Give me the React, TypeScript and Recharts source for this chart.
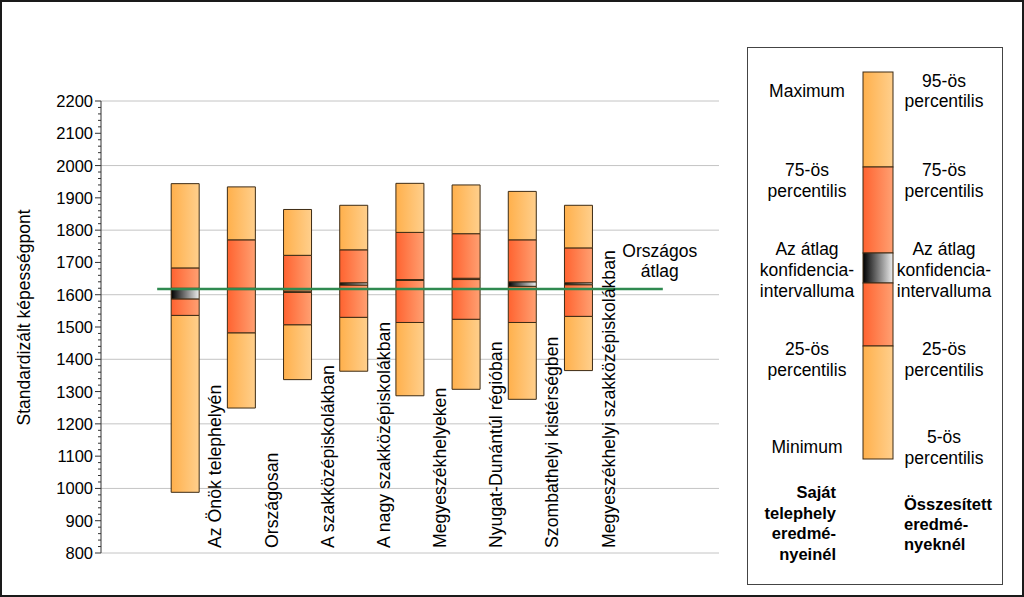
import React from "react";
import {
  ComposedChart,
  Bar,
  XAxis,
  YAxis,
  CartesianGrid,
  ReferenceLine,
} from "recharts";

const FONT = "'Liberation Sans', Arial, sans-serif";

const categories = [
  "Az Önök telephelyén",
  "Országosan",
  "A szakközépiskolákban",
  "A nagy szakközépiskolákban",
  "Megyeszékhelyeken",
  "Nyugat-Dunántúl régióban",
  "Szombathelyi kistérségben",
  "Megyeszékhelyi szakközépiskolákban",
];

// values (top to bottom of each box)
const maxValues = [1944, 1934, 1864, 1877, 1945, 1940, 1920, 1877];
const p75Values = [1683, 1770, 1722, 1739, 1793, 1789, 1770, 1745];
const ciHighValues = [1620, 1620, 1611, 1637, 1647, 1651, 1640, 1637];
const ciLowValues = [1587, 1616, 1607, 1630, 1644, 1647, 1626, 1631];
const p25Values = [1536, 1482, 1507, 1530, 1514, 1524, 1514, 1533];
const minValues = [988, 1249, 1337, 1363, 1287, 1307, 1276, 1365];

const nationalAverage = 1618;
const nationalLabel = ["Országos", "átlag"];
const yAxisTitle = "Standardizált képességpont";

const yTicks = [800, 900, 1000, 1100, 1200, 1300, 1400, 1500, 1600, 1700, 1800, 1900, 2000, 2100, 2200];
const gridValues = [800, 1000, 1200, 1400, 1600, 1800, 2000, 2200];
const minorStep = 20;

// empty slots around the boxes
const leadingSlots = ["pad-0"];
const trailingSlots = ["pad-9", "pad-10"];

const legendLeft = [
  ["Maximum"],
  ["75-ös", "percentilis"],
  ["Az átlag", "konfidencia-", "intervalluma"],
  ["25-ös", "percentilis"],
  ["Minimum"],
];
const legendRight = [
  ["95-ös", "percentilis"],
  ["75-ös", "percentilis"],
  ["Az átlag", "konfidencia-", "intervalluma"],
  ["25-ös", "percentilis"],
  ["5-ös", "percentilis"],
];
const legendLeftTitle = ["Saját", "telephely", "eredmé-", "nyeinél"];
const legendRightTitle = ["Összesített", "eredmé-", "nyeknél"];

const minorTicks: number[] = [];
for (let v = yTicks[0]; v <= yTicks[yTicks.length - 1]; v += minorStep) minorTicks.push(v);

const rows = [
  ...leadingSlots.map((key) => ({ key })),
  ...categories.map((key, i) => ({
    key,
    base: minValues[i],
    lowOrange: p25Values[i] - minValues[i],
    lowRed: ciLowValues[i] - p25Values[i],
    ci: ciHighValues[i] - ciLowValues[i],
    highRed: p75Values[i] - ciHighValues[i],
    highOrange: maxValues[i] - p75Values[i],
  })),
  ...trailingSlots.map((key) => ({ key })),
];

const EDGE = "#3d2b14";

function CategoryTick(props: any) {
  const { x, y, payload } = props;
  const value = String(payload.value);
  if (value.startsWith("pad")) return <g />;
  const half = typeof payload.offset === "number" && payload.offset > 0 ? payload.offset : 28;
  const tx = x + half + 8;
  const ty = y - 5;
  return (
    <text
      x={tx}
      y={ty}
      transform={`rotate(-90, ${tx}, ${ty})`}
      textAnchor="start"
      fontSize={17.7}
      fontFamily={FONT}
      fill="#000"
    >
      {value}
    </text>
  );
}

function ValueTick(props: any) {
  const { x, y, payload } = props;
  const v = Number(payload.value);
  const major = yTicks.includes(v);
  return (
    <g>
      <line x1={x} x2={x - (major ? 6 : 3)} y1={y} y2={y} stroke="#333" />
      {major && (
        <text x={x - 8} y={y} dy={6} textAnchor="end" fontSize={16.5} fontFamily={FONT} fill="#000">
          {v}
        </text>
      )}
    </g>
  );
}

function LegendPanel() {
  const barX = 863;
  const barW = 30;
  const cuts = [72, 167, 253, 283, 346, 459];
  const fills = ["url(#lgOrange)", "url(#lgRed)", "url(#lgCi)", "url(#lgRed)", "url(#lgOrange)"];
  const leftBase = [[97], [176, 197], [255, 276, 297], [355, 376], [453]];
  const rightBase = [[87, 107], [176, 197], [255, 276, 297], [355, 376], [443, 464]];
  return (
    <svg
      width={1024}
      height={597}
      style={{ position: "absolute", left: 0, top: 0, pointerEvents: "none" }}
      fontFamily={FONT}
    >
      <defs>
        <linearGradient id="lgOrange" x1="0" y1="0" x2="1" y2="0">
          <stop offset="0" stopColor="#ffb04c" />
          <stop offset="1" stopColor="#ffcf8c" />
        </linearGradient>
        <linearGradient id="lgRed" x1="0" y1="0" x2="1" y2="0">
          <stop offset="0" stopColor="#ff6330" />
          <stop offset="1" stopColor="#ffa072" />
        </linearGradient>
        <linearGradient id="lgCi" x1="0" y1="0" x2="1" y2="0">
          <stop offset="0" stopColor="#000" />
          <stop offset="1" stopColor="#eeeeee" />
        </linearGradient>
      </defs>
      <rect x={747.5} y={47.5} width={255} height={537} fill="#fff" stroke="#444" />
      {fills.map((f, i) => (
        <rect
          key={i}
          x={barX}
          y={cuts[i]}
          width={barW}
          height={cuts[i + 1] - cuts[i]}
          fill={f}
          stroke={EDGE}
        />
      ))}
      {legendLeft.map((lines, i) =>
        lines.map((t, j) => (
          <text key={`l${i}-${j}`} x={807} y={leftBase[i][j]} textAnchor="middle" fontSize={17.5} fill="#000">
            {t}
          </text>
        ))
      )}
      {legendRight.map((lines, i) =>
        lines.map((t, j) => (
          <text key={`r${i}-${j}`} x={944} y={rightBase[i][j]} textAnchor="middle" fontSize={17.5} fill="#000">
            {t}
          </text>
        ))
      )}
      {legendLeftTitle.map((t, j) => (
        <text key={`lt${j}`} x={836} y={498 + j * 20.5} textAnchor="end" fontSize={16.5} fontWeight="bold" fill="#000">
          {t}
        </text>
      ))}
      {legendRightTitle.map((t, j) => (
        <text key={`rt${j}`} x={904} y={510 + j * 20} textAnchor="start" fontSize={16.5} fontWeight="bold" fill="#000">
          {t}
        </text>
      ))}
    </svg>
  );
}

export default function App() {
  return (
    <div
      style={{
        position: "absolute",
        left: 0,
        top: 0,
        width: 1024,
        height: 597,
        background: "#fff",
        fontFamily: FONT,
        overflow: "hidden",
      }}
    >
      <ComposedChart
        width={1024}
        height={597}
        data={rows}
        margin={{ top: 101, right: 305, bottom: 0, left: 0 }}
      >
        <defs>
          <linearGradient id="gOrange" x1="0" y1="0" x2="1" y2="0">
            <stop offset="0" stopColor="#ffb04c" />
            <stop offset="1" stopColor="#ffcf8c" />
          </linearGradient>
          <linearGradient id="gRed" x1="0" y1="0" x2="1" y2="0">
            <stop offset="0" stopColor="#ff6330" />
            <stop offset="1" stopColor="#ffa072" />
          </linearGradient>
          <linearGradient id="gCi" x1="0" y1="0" x2="1" y2="0">
            <stop offset="0" stopColor="#000" />
            <stop offset="1" stopColor="#eeeeee" />
          </linearGradient>
        </defs>
        <CartesianGrid vertical={false} horizontalValues={gridValues} stroke="#c4c4c4" />
        <XAxis
          dataKey="key"
          type="category"
          height={44}
          interval={0}
          tickSize={0}
          tickMargin={0}
          tickLine={false}
          axisLine={false}
          tick={<CategoryTick />}
        />
        <YAxis
          type="number"
          domain={[800, 2200]}
          allowDataOverflow
          ticks={minorTicks}
          interval={0}
          width={101}
          tickSize={0}
          tickMargin={0}
          tickLine={false}
          axisLine={{ stroke: "#333" }}
          tick={<ValueTick />}
          label={{
            content: (p: any) => {
              const vb = p.viewBox || { x: 0, y: 101, width: 101, height: 452 };
              const cx = vb.x + 30;
              const cy = vb.y + vb.height / 2 - 9.5;
              return (
                <text
                  x={cx}
                  y={cy}
                  transform={`rotate(-90, ${cx}, ${cy})`}
                  textAnchor="middle"
                  fontSize={17.5}
                  fontFamily={FONT}
                  fill="#000"
                >
                  {yAxisTitle}
                </text>
              );
            },
          }}
        />
        <Bar dataKey="base" stackId="box" barSize={28} fill="none" stroke="none" isAnimationActive={false} />
        <Bar dataKey="lowOrange" stackId="box" barSize={28} fill="url(#gOrange)" stroke={EDGE} isAnimationActive={false} />
        <Bar dataKey="lowRed" stackId="box" barSize={28} fill="url(#gRed)" stroke={EDGE} isAnimationActive={false} />
        <Bar dataKey="ci" stackId="box" barSize={28} fill="url(#gCi)" stroke={EDGE} isAnimationActive={false} />
        <Bar dataKey="highRed" stackId="box" barSize={28} fill="url(#gRed)" stroke={EDGE} isAnimationActive={false} />
        <Bar dataKey="highOrange" stackId="box" barSize={28} fill="url(#gOrange)" stroke={EDGE} isAnimationActive={false} />
        <ReferenceLine
          segment={[
            { x: categories[0], y: nationalAverage },
            { x: trailingSlots[trailingSlots.length - 1], y: nationalAverage },
          ]}
          position="start"
          stroke="#2f8a50"
          strokeWidth={2.5}
          label={{
            content: (p: any) => {
              const vb = p.viewBox || { x: 157, y: 289, width: 505, height: 0 };
              const cx = vb.x + vb.width - 3;
              return (
                <g>
                  {nationalLabel.map((t, j) => (
                    <text
                      key={t}
                      x={cx}
                      y={vb.y - 32 + j * 20}
                      textAnchor="middle"
                      fontSize={17.5}
                      fontFamily={FONT}
                      fill="#000"
                    >
                      {t}
                    </text>
                  ))}
                </g>
              );
            },
          }}
        />
      </ComposedChart>
      <LegendPanel />
      <div
        style={{
          position: "absolute",
          left: 0,
          top: 0,
          width: 1024,
          height: 597,
          boxSizing: "border-box",
          border: "2px solid #1a1a1a",
          pointerEvents: "none",
        }}
      />
    </div>
  );
}
